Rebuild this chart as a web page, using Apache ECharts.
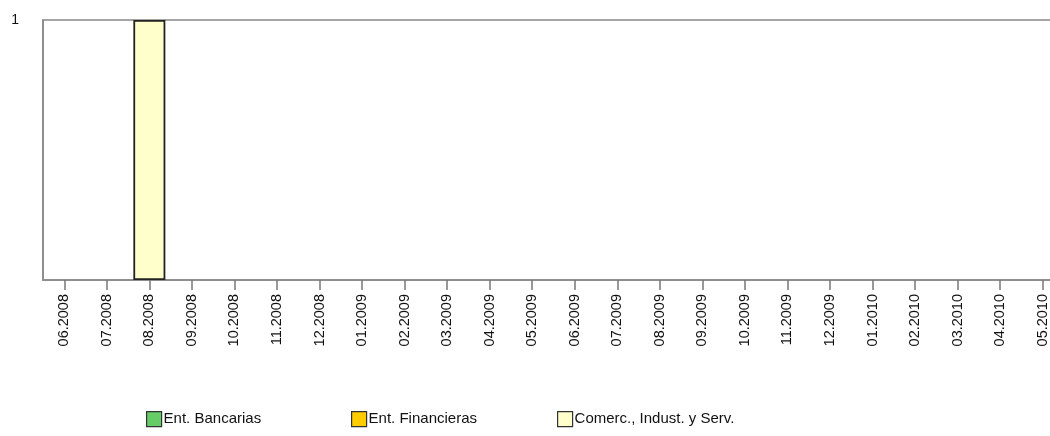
<!DOCTYPE html>
<html><head><meta charset="utf-8">
<script src="https://cdn.jsdelivr.net/npm/echarts@6/dist/echarts.min.js"></script>
<style>html,body{margin:0;padding:0;background:#fff}#c{width:1050px;height:436px}</style>
</head><body><div id="c"></div>
<script>
const categories = ['06.2008','07.2008','08.2008','09.2008','10.2008','11.2008','12.2008','01.2009','02.2009','03.2009','04.2009','05.2009','06.2009','07.2009','08.2009','09.2009','10.2009','11.2009','12.2009','01.2010','02.2010','03.2010','04.2010','05.2010'];
const bancarias =   [0,0,0,0,0,0,0,0,0,0,0,0,0,0,0,0,0,0,0,0,0,0,0,0];
const financieras = [0,0,0,0,0,0,0,0,0,0,0,0,0,0,0,0,0,0,0,0,0,0,0,0];
const comerc =      [0,0,1,0,0,0,0,0,0,0,0,0,0,0,0,0,0,0,0,0,0,0,0,0];
const names = ['Ent. Bancarias','Ent. Financieras','Comerc., Indust. y Serv.'];
const colors = ['#66CC66','#FFCC00','#FFFFCC'];
const font = 'Liberation Sans, Arial, sans-serif';
const chart = echarts.init(document.getElementById('c'), null, {renderer:'canvas'});
const mk = (name, data, color) => ({
  name, type:'bar', stack:'s', data: data.map(v => v === 0 ? null : v),
  barWidth: 32, itemStyle:{color, borderColor:'#222', borderWidth:1.8},
  emphasis:{disabled:true}, animation:false
});
const legendLefts = [146, 351, 557];
chart.setOption({
  animation:false,
  color: colors,
  grid:{left:43, width:1021, top:20, height:260, outerBoundsMode:'none', containLabel:false, show:true, borderColor:'#888', borderWidth:1.5, backgroundColor:'#fff'},
  legend: names.map((n,i)=>({data:[n], left:legendLefts[i], top:411, padding:0, itemWidth:15, itemHeight:15, itemGap:0,
    icon:'rect', textStyle:{fontFamily:font, fontSize:15, color:'#111', padding:[0,0,0,-3]},
    itemStyle:{borderColor:'#333', borderWidth:1.2}, selectedMode:false})),
  xAxis:{type:'category', data:categories,
    axisLine:{show:true, lineStyle:{color:'#888', width:1.5}},
    axisTick:{show:true, alignWithLabel:true, length:10, lineStyle:{color:'#777', width:1.5}},
    axisLabel:{show:true, rotate:90, interval:0, margin:14, fontFamily:font, fontSize:14.5, color:'#111'}},
  yAxis:{type:'value', min:0, max:1, interval:1,
    axisLine:{show:true, lineStyle:{color:'#888', width:1.5}}, axisTick:{show:false}, splitLine:{show:false},
    axisLabel:{margin:24, fontFamily:font, fontSize:14, color:'#111', formatter:v => v === 0 ? '' : String(v), verticalAlign:'middle', padding:[6,0,0,0]}},
  series:[mk(names[0], bancarias, colors[0]), mk(names[1], financieras, colors[1]), mk(names[2], comerc, colors[2])]
});
</script></body></html>
